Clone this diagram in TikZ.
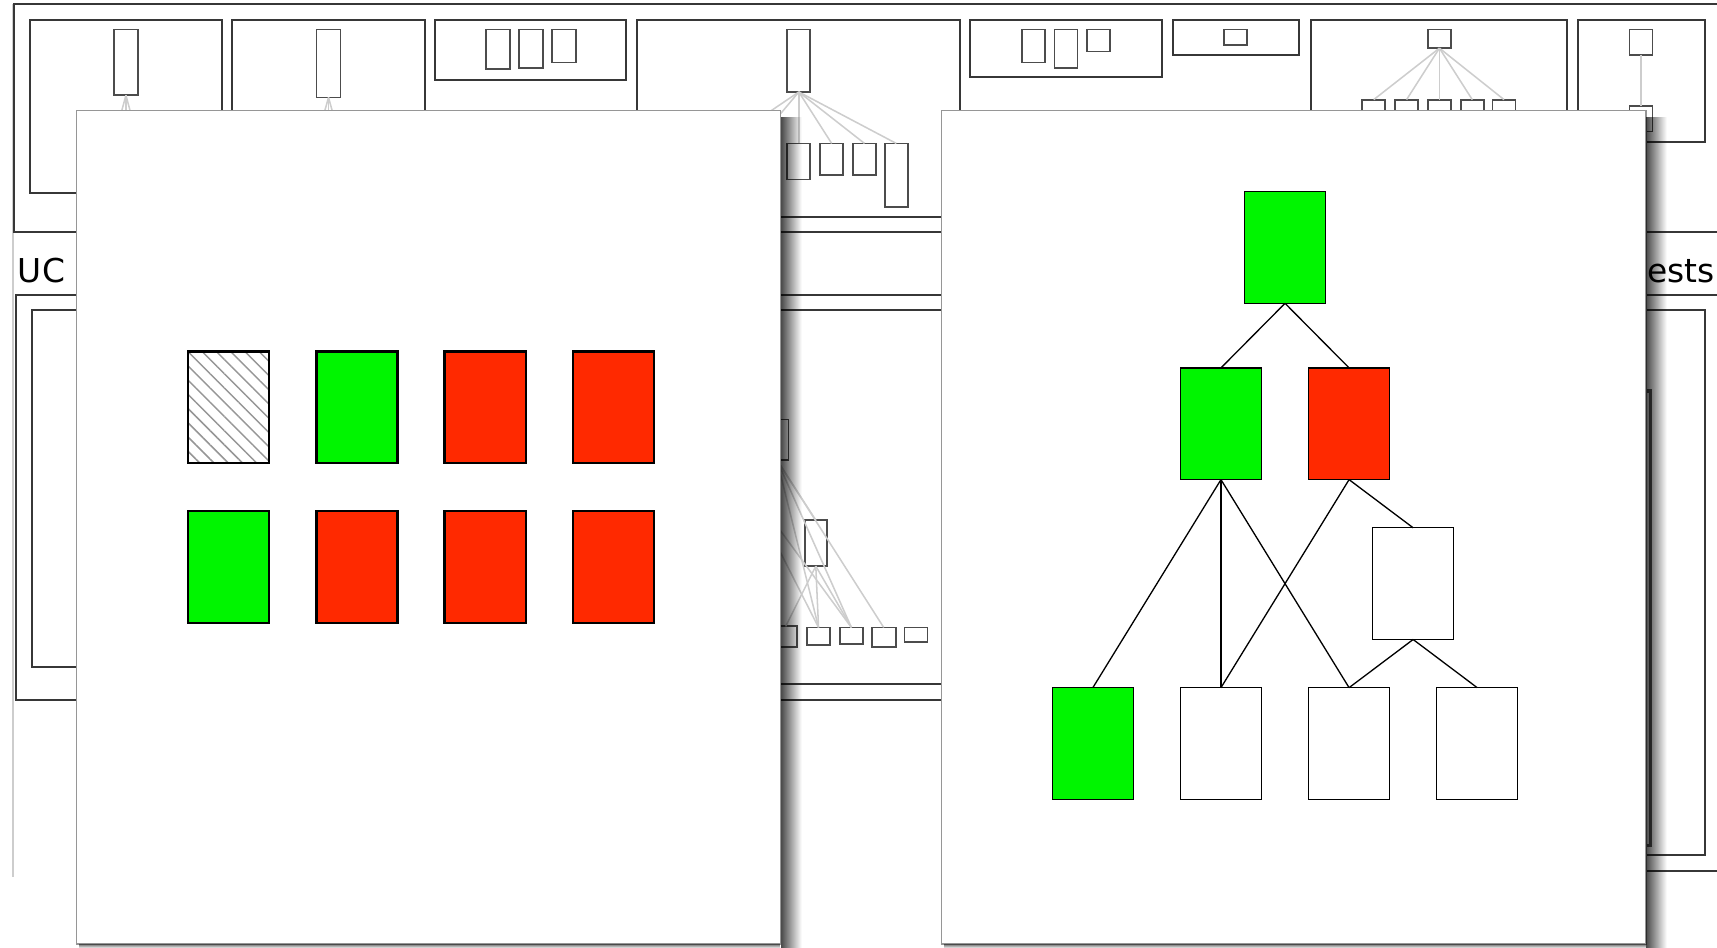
\documentclass[tikz,border=0pt]{standalone}
\usepackage{fontspec}
\setmainfont{DejaVu Sans}
\usepackage{tikz}
\usetikzlibrary{positioning,calc,fadings,patterns.meta}
\definecolor{passgreen}{RGB}{0,245,0}
\definecolor{failred}{RGB}{255,41,0}
\definecolor{framegray}{RGB}{55,55,55}
\definecolor{fangray}{RGB}{205,205,205}
\definecolor{panelgray}{RGB}{150,150,150}
\definecolor{hatchgray}{RGB}{150,150,150}

\begin{document}
\begin{tikzpicture}[x=0.5pt, y=-0.5pt,
		bgbox/.style={draw=framegray, line width=0.9pt},
		mini/.style={draw=black!70, line width=0.8pt, fill=white, anchor=north west, inner sep=0pt, outer sep=0pt, minimum width=10.5pt},
		fan/.style={draw=fangray, line width=0.7pt},
		panel/.style={draw=panelgray, line width=0.6pt, fill=white, anchor=north west, inner sep=0pt, outer sep=0pt, minimum width=321.5pt, minimum height=380.5pt},
		cell/.style={draw, line width=1pt, minimum width=37pt, minimum height=51pt, inner sep=0pt, outer sep=0pt},
		leaf/.style={draw, fill=white, line width=0.6pt, minimum width=37pt, minimum height=51pt, inner sep=0pt, outer sep=0pt},
		link/.style={draw, line width=0.6pt}]
	\useasboundingbox (0,0) rectangle (1568,865);
	\clip (0,0) rectangle (1568,865);

	% the page behind the two panels
	\draw[fangray, line width=0.6pt] (12,4) -- (12,801);
	\draw[bgbox] (13,4) rectangle (1620,212);
	\draw[bgbox] (27,18) rectangle (203,176);
	\draw[bgbox] (212,18) rectangle (388,176);
	\draw[bgbox] (397,18) rectangle (572,73);
	\draw[bgbox] (582,18) rectangle (877,198);
	\draw[bgbox] (886,18) rectangle (1061,70);
	\draw[bgbox] (1071,18) rectangle (1186,50);
	\draw[bgbox] (1197,18) rectangle (1431,176);
	\draw[bgbox] (1441,18) rectangle (1557,130);

	\node[mini, minimum width=11pt, minimum height=30pt] (atop) at (104,27) {};
	\node[mini, minimum width=11pt, minimum height=31pt] (btop) at (289,27) {};
	\coordinate (ak1) at (98,150);  \coordinate (ak2) at (115,150);  \coordinate (ak3) at (132,150);
	\coordinate (bk1) at (283,150); \coordinate (bk2) at (300,150); \coordinate (bk3) at (317,150);
	\foreach \k in {ak1,ak2,ak3} \draw[fan] (atop.south) -- (\k);
	\foreach \k in {bk1,bk2,bk3} \draw[fan] (btop.south) -- (\k);

	\node[mini, minimum width=11pt, minimum height=18pt] (cb1) at (444,27) {};
	\node[mini, minimum width=11pt, minimum height=17.5pt] (cb2) at (474,27) {};
	\node[mini, minimum width=11pt, minimum height=15pt] (cb3) at (504,27) {};

	\node[mini, minimum height=28.5pt] (dtop) at (719,27) {};
	\node[mini, minimum height=16.5pt] (dk1) at (719,131) {};
	\node[mini, minimum height=14.5pt] (dk2) at (749,131) {};
	\node[mini, minimum height=14.5pt] (dk3) at (779,131) {};
	\node[mini, minimum height=29pt] (dk4) at (808,131) {};
	\coordinate (dk0) at (690,131); \coordinate (dkm) at (660,131);
	\foreach \k in {dk1,dk2,dk3,dk4} \draw[fan] (dtop.south) -- (\k.north);
	\foreach \k in {dk0,dkm} \draw[fan] (dtop.south) -- (\k);

	\node[mini, minimum height=15pt] (eb1) at (933,27) {};
	\node[mini, minimum height=17.5pt] (eb2) at (963,27) {};
	\node[mini, minimum height=10pt] (eb3) at (993,27) {};
	\node[mini, minimum height=7pt] (fb1) at (1118,27) {};

	\node[mini, minimum height=8.5pt] (gtop) at (1304,27) {};
	\foreach \x [count=\i] in {1244,1274,1304,1334,1363} {
		\node[mini, minimum height=12pt] (gk\i) at (\x,91) {};
		\draw[fan] (gtop.south) -- (gk\i.north);
	}

	\node[mini, minimum height=11.5pt] (htop) at (1488,27) {};
	\node[mini, minimum height=11.5pt] (hk) at (1488,97) {};
	\draw[fan] (htop.south) -- (hk.north);

	\node[anchor=base west, inner sep=0pt, font=\fontsize{15}{18}\selectfont] (uclabel) at (16,258) {UC};
	\node[anchor=base east, inner sep=0pt, font=\fontsize{15}{18}\selectfont] (testslabel) at (1566,258) {tests};

	\draw[bgbox] (15,269) rectangle (875,639);
	\draw[bgbox] (29,283) rectangle (690,609);
	\draw[bgbox] (700,283) rectangle (870,625);
	\draw[bgbox] (900,269) rectangle (1620,795);
	\draw[bgbox] (915,283) rectangle (1557,781);
	\draw[draw=black!65, line width=1.5pt] (1300,357) rectangle (1507,772);

	\node[mini, minimum height=18.5pt] (mtop) at (699,383) {};
	\node[mini, minimum width=10pt, minimum height=21pt] (mmid) at (735,475) {};
	\node[mini, minimum height=9.5pt] (ms1) at (707,572) {};
	\node[mini, minimum height=8pt] (ms2) at (737,573) {};
	\node[mini, minimum height=7.5pt] (ms3) at (767,573) {};
	\node[mini, minimum width=11pt, minimum height=9pt] (ms4) at (796,573) {};
	\node[mini, minimum height=6.5pt] (ms5) at (826,573) {};
	\coordinate (mhid) at (680,440);
	\foreach \k in {mmid,ms2,ms3,ms4} \draw[fan] (mtop.south) -- (\k.north);
	\foreach \k in {ms1,ms2,ms3} \draw[fan] (mmid.south) -- (\k.north);
	\foreach \k in {ms2,ms3} \draw[fan] (mhid) -- (\k.north);

	% the two panels in front
	\node[panel] (leftpanel) at (70,101) {};
	\node[panel] (rightpanel) at (860,101) {};
	\fill[black, path fading=east, fill opacity=0.7] ($(leftpanel.north east)+(0.5,6)$) rectangle ($(leftpanel.south east)+(19,4)$);
	\fill[black, path fading=east, fill opacity=0.7] ($(rightpanel.north east)+(0.5,6)$) rectangle ($(rightpanel.south east)+(19,4)$);
	\fill[black, path fading=south, fill opacity=0.5] ($(leftpanel.south west)+(2,0.5)$) rectangle ($(leftpanel.south east)+(0,4)$);
	\fill[black, path fading=south, fill opacity=0.5] ($(rightpanel.south west)+(2,0.5)$) rectangle ($(rightpanel.south east)+(0,4)$);

	% left panel: two rows of results
	\node[cell, pattern={Lines[angle=-45,distance=4.6pt,line width=0.7pt]}, pattern color=hatchgray] (u1) at (209,372) {};
	\node[cell, fill=passgreen, right=21.5pt of u1] (u2) {};
	\node[cell, fill=failred, right=21.5pt of u2] (u3) {};
	\node[cell, fill=failred, right=21.5pt of u3] (u4) {};
	\node[cell, fill=passgreen, below=22pt of u1] (u5) {};
	\node[cell, fill=failred, right=21.5pt of u5] (u6) {};
	\node[cell, fill=failred, right=21.5pt of u6] (u7) {};
	\node[cell, fill=failred, right=21.5pt of u7] (u8) {};

	% right panel: the tree
	\node[leaf, fill=passgreen] (root) at (1173.5,226) {};
	\node[leaf, fill=passgreen] (n1) at (1115,387) {};
	\node[leaf, fill=failred, right=21.5pt of n1] (n2) {};
	\node[leaf, below=95pt of n1] (b2) {};
	\node[leaf, fill=passgreen, left=21.5pt of b2] (b1) {};
	\node[leaf, right=21.5pt of b2] (b3) {};
	\node[leaf, right=21.5pt of b3] (b4) {};
	\coordinate (gap34) at ($(b3.north)!0.5!(b4.north)$);
	\node[leaf, above=22pt of gap34] (mid) {};

	\foreach \a/\b in {root/n1, root/n2, n1/b1, n1/b2, n1/b3, n2/b2, n2/mid, mid/b3, mid/b4}
		\draw[link] (\a.south) -- (\b.north);
\end{tikzpicture}
\end{document}
